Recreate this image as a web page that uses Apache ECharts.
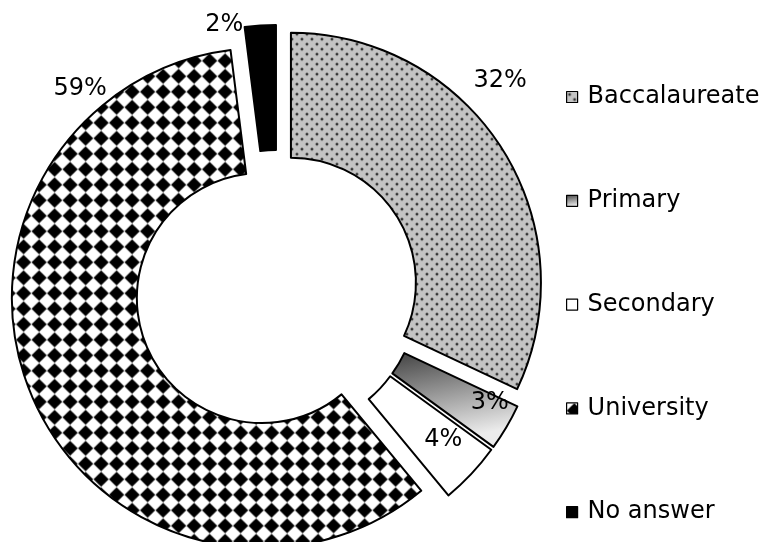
<!DOCTYPE html>
<html>
<head>
<meta charset="utf-8">
<script src="https://cdn.jsdelivr.net/npm/echarts@6/dist/echarts.min.js"></script>
<style>
  html, body { margin: 0; padding: 0; background: #ffffff; }
  #chart { width: 767px; height: 542px; }
</style>
</head>
<body>
<div id="chart"></div>
<script>
// Education level of respondents (percent)
const categories = ['Baccalaureate', 'Primary', 'Secondary', 'University', 'No answer'];
const shares = [32, 3, 4, 59, 2];

// Ring geometry (pixels)
const CX = 277, CY = 291.5, R_IN = 125, R_OUT = 250, EXPLODE = 16.5;
const LABEL_FIELD = 320;
const FONT = '"DejaVu Sans", Verdana, sans-serif';

// Grey ground with staggered dark dots
function dottedFill() {
  const c = document.createElement('canvas');
  c.width = 10; c.height = 10;
  const g = c.getContext('2d');
  g.fillStyle = '#c4c4c4';
  g.fillRect(0, 0, 10, 10);
  g.fillStyle = '#9a9a9a';
  g.fillRect(1, 2, 4, 2);
  g.fillRect(2, 1, 2, 4);
  g.fillRect(6, 7, 4, 2);
  g.fillRect(7, 6, 2, 4);
  g.fillStyle = '#333333';
  g.fillRect(2, 2, 2, 2);
  g.fillRect(7, 7, 2, 2);
  return { image: c, repeat: 'repeat' };
}

// White ground with a grid of soft black diamonds
function diamondFill() {
  const c = document.createElement('canvas');
  const P = 15.5;
  c.width = 31; c.height = 31;
  const g = c.getContext('2d');
  g.fillStyle = '#ffffff';
  g.fillRect(0, 0, 31, 31);
  g.filter = 'blur(0.55px)';
  g.fillStyle = '#000000';
  const h = 7.6;
  for (let i = -1; i <= 2; i++) {
    for (let j = -1; j <= 2; j++) {
      const x = P / 2 + i * P, y = P / 2 + j * P;
      g.beginPath();
      g.moveTo(x, y - h); g.lineTo(x + h, y); g.lineTo(x, y + h); g.lineTo(x - h, y);
      g.closePath();
      g.fill();
    }
  }
  return { image: c, repeat: 'repeat' };
}

const fills = [
  dottedFill(),
  { type: 'linear', x: 0, y: 0, x2: 0.15, y2: 1,
    colorStops: [{ offset: 0, color: '#404040' }, { offset: 1, color: '#ececec' }] },
  '#ffffff',
  diamondFill(),
  '#000000'
];

// Where each percentage sits: distance from the ring centre and turn from the slice bisector
const labelPlace = [
  { r: 307, turn: -11 },
  { r: 240, turn: -3 },
  { r: 223, turn: -1.4 },
  { r: 283, turn: 69.3 },
  { r: 272, turn: -7.6 }
];

const total = shares.reduce((a, b) => a + b, 0);
const mids = [];
let acc = 0;
shares.forEach(v => { mids.push((acc + v / 2) / total * 360); acc += v; });

const data = categories.map((name, i) => {
  const style = { color: fills[i], borderColor: '#000000', borderWidth: 2 };
  return { name, value: shares[i], selected: true, itemStyle: style, select: { itemStyle: style } };
});

// Percentage labels placed in polar coordinates around the ring centre
const labelPoints = categories.map((name, i) => ({
  value: [labelPlace[i].r, (mids[i] + labelPlace[i].turn + 360) % 360],
  label: { formatter: shares[i] + '%' }
}));

const chart = echarts.init(document.getElementById('chart'), null, { renderer: 'canvas' });
chart.setOption({
  animation: false,
  backgroundColor: '#ffffff',
  polar: { center: [CX, CY], radius: LABEL_FIELD },
  angleAxis: { type: 'value', min: 0, max: 360, startAngle: 90, clockwise: true, show: false },
  radiusAxis: { type: 'value', min: 0, max: LABEL_FIELD, show: false },
  legend: {
    orient: 'vertical',
    left: 566,
    top: 85,
    padding: 0,
    itemWidth: 11,
    itemHeight: 11,
    itemGap: 79.8,
    selectedMode: false,
    icon: 'rect',
    itemStyle: { borderColor: '#000000', borderWidth: 1.2 },
    textStyle: { fontFamily: FONT, fontSize: 24, color: '#000000', lineHeight: 24, padding: [0, 0, 0, 5] },
    data: categories
  },
  series: [{
    type: 'pie',
    center: [CX, CY],
    radius: [R_IN, R_OUT],
    startAngle: 90,
    clockwise: true,
    selectedMode: 'multiple',
    selectedOffset: EXPLODE,
    avoidLabelOverlap: false,
    emphasis: { disabled: true },
    label: { show: false },
    labelLine: { show: false },
    data
  }, {
    type: 'scatter',
    coordinateSystem: 'polar',
    symbolSize: 0,
    silent: true,
    z: 5,
    itemStyle: { opacity: 1, color: 'transparent' },
    label: {
      show: true,
      position: 'inside',
      fontFamily: FONT,
      fontSize: 24,
      color: '#000000',
      opacity: 1,
      textBorderWidth: 0
    },
    data: labelPoints
  }]
});
</script>
</body>
</html>
